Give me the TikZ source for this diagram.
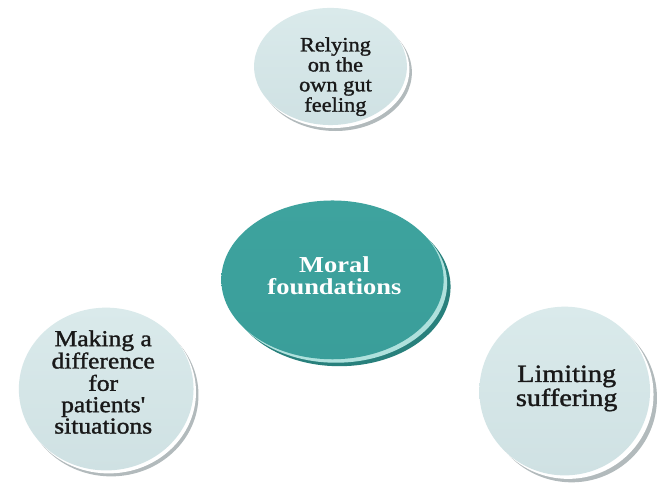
\documentclass[tikz,border=0pt]{standalone}
\usepackage{fontspec}
\setmainfont{Liberation Serif}
\newfontfamily\heavyserif[FakeBold=1.3]{Liberation Serif}
\usetikzlibrary{shapes.geometric}

\definecolor{paleTop}{RGB}{218,234,235}
\definecolor{paleBot}{RGB}{207,225,227}
\definecolor{paleRim}{RGB}{178,186,188}
\definecolor{tealFace}{RGB}{58,158,154}
\definecolor{tealTop}{RGB}{62,163,158}
\definecolor{tealRim}{RGB}{40,128,124}
\definecolor{tealGlow}{RGB}{175,225,221}
\definecolor{inkText}{RGB}{25,25,25}

% a block of centred lines, slightly widened: scale, size, leading, lines
\newcommand{\disklines}[4]{%
  \scalebox{#1}[1]{\fontsize{#2}{#3}\selectfont\begin{tabular}{@{}c@{}}#4\end{tabular}}}

\begin{document}
\begin{tikzpicture}[x=1pt,y=-1pt,
  sz/.style 2 args={minimum width=#1pt, minimum height=#2pt},
  rimout/.style={ellipse, inner sep=0pt, fill=paleRim},
  rimin/.style={ellipse, inner sep=0pt, fill=white},
  paleface/.style={ellipse, inner sep=0pt, top color=paleTop, bottom color=paleBot},
  tealrimout/.style={ellipse, inner sep=0pt, fill=tealRim},
  tealrimin/.style={ellipse, inner sep=0pt, fill=tealGlow},
  tealface/.style={ellipse, inner sep=0pt, top color=tealTop, bottom color=tealFace},
  lbl/.style={inner sep=0pt, text=inkText, font=\heavyserif},
  mainlbl/.style={inner sep=0pt, text=white, font=\bfseries}]

\fill[white] (0,0) rectangle (657,477);

% top disk
\node[rimout, sz={154}{118}] (topRimO) at (338,73) {};
\node[rimin,  sz={154}{118}] (topRimI) at (335.5,70) {};
\node[paleface, sz={154}{118}] (topDisk) at (333,67) {};
\node[lbl] (topTxt) at (338,78) {\disklines{1.1}{20.5}{20}{Relying\\on the\\own gut\\feeling}};

% centre disk
\node[tealrimout, sz={224}{160}] (midRimO) at (342,289) {};
\node[tealrimin,  sz={224}{160}] (midRimI) at (338.5,285.5) {};
\node[tealface, sz={224}{160}] (midDisk) at (335,282) {};
\node[mainlbl] (midTxt) at (337,281) {\disklines{1.16}{23}{22}{Moral\\foundations}};

% lower left disk
\node[rimout, sz={176}{164}] (leftRimO) at (112,398) {};
\node[rimin,  sz={176}{164}] (leftRimI) at (109.5,395) {};
\node[paleface, sz={176}{164}] (leftDisk) at (107,392) {};
\node[lbl] (leftTxt) at (104,388) {\disklines{1.12}{23}{21}{Making a\\difference\\for\\patients\textquotesingle\\situations}};

% lower right disk
\node[rimout, sz={172}{170}] (rightRimO) at (576,401) {};
\node[rimin,  sz={172}{170}] (rightRimI) at (572.5,397.5) {};
\node[paleface, sz={172}{170}] (rightDisk) at (569,394) {};
\node[lbl] (rightTxt) at (571,392) {\disklines{1.14}{25}{22}{Limiting\\suffering}};

\useasboundingbox (0,0) rectangle (657,477);
\end{tikzpicture}
\end{document}
